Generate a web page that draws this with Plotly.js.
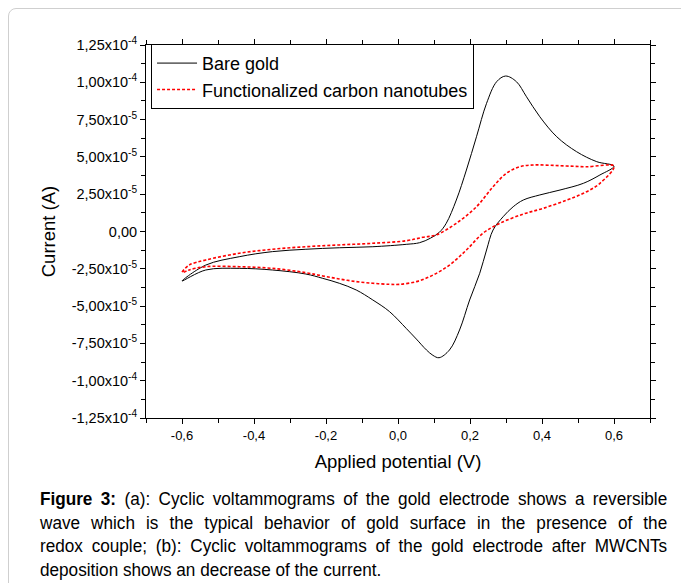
<!DOCTYPE html>
<html>
<head>
<meta charset="utf-8">
<script src="https://cdn.plot.ly/plotly-3.0.1.min.js"></script>
<style>
  html, body { margin: 0; padding: 0; background: #fff; }
  body { width: 681px; height: 583px; position: relative; overflow: hidden; font-family: "Liberation Sans", Arial, sans-serif; }
  #frame { position: absolute; left: 8px; top: 8px; width: 720px; height: 620px; border: 1px solid #cfcfcf; border-radius: 8px; box-sizing: border-box; }
  #chart { position: absolute; left: 0; top: 0; width: 681px; height: 583px; }
  #caption { position: absolute; left: 40px; top: 488px; width: 640px; transform: scaleX(0.98); transform-origin: 0 0; font-size: 17.5px; line-height: 23.7px; color: #000; }
  #caption .ln { text-align: justify; text-align-last: justify; white-space: normal; }
  #caption .ln.last { text-align-last: left; }
</style>
</head>
<body>
<div id="frame"></div>
<div id="chart"></div>
<div id="caption">
  <div class="ln"><b>Figure 3:</b> (a): Cyclic voltammograms of the gold electrode shows a reversible</div>
  <div class="ln">wave which is the typical behavior of gold surface in the presence of the</div>
  <div class="ln">redox couple; (b): Cyclic voltammograms of the gold electrode after MWCNTs</div>
  <div class="ln last">deposition shows an decrease of the current.</div>
</div>
<script>
// Bare gold: forward (anodic) scan then reverse (cathodic) scan; potential in V, current in units of 1e-5 A
const bareV = [-0.6, -0.534, -0.441, -0.349, -0.256, -0.163, -0.070, 0.023, 0.060, 0.090, 0.115, 0.134, 0.162, 0.190, 0.218, 0.246, 0.274, 0.299, 0.329, 0.357, 0.394, 0.441, 0.496, 0.552, 0.6,
               0.561, 0.515, 0.450, 0.394, 0.348, 0.320, 0.292, 0.264, 0.246, 0.227, 0.199, 0.171, 0.143, 0.114, 0.097, 0.079, 0.051, 0.023, -0.024, -0.070, -0.116, -0.163, -0.209, -0.256, -0.349, -0.441, -0.534, -0.6];
const bareI = [-3.32, -2.25, -1.69, -1.35, -1.19, -1.09, -1.02, -0.86, -0.75, -0.45, -0.05, 0.55, 2.11, 4.12, 6.35, 8.59, 10.04, 10.42, 10.04, 9.03, 7.69, 6.35, 5.35, 4.68, 4.38,
               3.79, 3.23, 2.78, 2.45, 2.11, 1.66, 0.99, 0.10, -1.24, -2.80, -4.59, -6.60, -7.94, -8.46, -8.30, -7.94, -7.21, -6.50, -5.36, -4.59, -3.92, -3.47, -3.14, -2.85, -2.58, -2.47, -2.58, -3.32];
// Functionalized carbon nanotubes
const cntV = [-0.6, -0.580, -0.534, -0.441, -0.349, -0.256, -0.163, -0.070, 0.023, 0.069, 0.106, 0.162, 0.218, 0.264, 0.301, 0.338, 0.375, 0.422, 0.469, 0.524, 0.6,
              0.561, 0.515, 0.469, 0.403, 0.348, 0.283, 0.236, 0.190, 0.143, 0.097, 0.051, 0.004, -0.024, -0.070, -0.116, -0.163, -0.209, -0.256, -0.349, -0.441, -0.534, -0.580, -0.6];
const cntI = [-2.72, -2.25, -1.91, -1.46, -1.19, -1.02, -0.90, -0.79, -0.62, -0.39, -0.23, 0.55, 1.66, 3.00, 3.90, 4.34, 4.46, 4.44, 4.39, 4.34, 4.38,
              3.23, 2.56, 2.11, 1.55, 1.17, 0.55, -0.12, -1.24, -2.25, -2.92, -3.36, -3.54, -3.54, -3.47, -3.36, -3.18, -2.98, -2.76, -2.47, -2.36, -2.36, -2.58, -2.80];
const seriesNames = ["Bare gold", "Functionalized carbon nanotubes"];
const yTickVals = [1.25e-4, 1.0e-4, 7.5e-5, 5.0e-5, 2.5e-5, 0, -2.5e-5, -5.0e-5, -7.5e-5, -1.0e-4, -1.25e-4];
const yTickText = ["1,25x10<sup>-4</sup>", "1,00x10<sup>-4</sup>", "7,50x10<sup>-5</sup>", "5,00x10<sup>-5</sup>", "2,50x10<sup>-5</sup>", "0,00",
                   "-2,50x10<sup>-5</sup>", "-5,00x10<sup>-5</sup>", "-7,50x10<sup>-5</sup>", "-1,00x10<sup>-4</sup>", "-1,25x10<sup>-4</sup>"];
const xTickVals = [-0.6, -0.4, -0.2, 0.0, 0.2, 0.4, 0.6];
const xTickText = ["-0,6", "-0,4", "-0,2", "0,0", "0,2", "0,4", "0,6"];

const scale = 1e-5;
const traces = [
  { x: bareV, y: bareI.map(v => v * scale), name: seriesNames[0], mode: "lines",
    line: { color: "#000", width: 1, shape: "spline", smoothing: 1 } },
  { x: cntV, y: cntI.map(v => v * scale), name: seriesNames[1], mode: "lines",
    line: { color: "#ff0000", width: 1.6, dash: "3px,2px", shape: "spline", smoothing: 1 } }
];
const fontFam = "Liberation Sans, Arial, sans-serif";
const layout = {
  width: 681, height: 583,
  margin: { l: 146, r: 31, t: 45, b: 165 },
  paper_bgcolor: "rgba(0,0,0,0)", plot_bgcolor: "rgba(0,0,0,0)",
  font: { family: fontFam, color: "#000", size: 13 },
  showlegend: true,
  legend: { x: 0.01, y: 1.003, xanchor: "left", yanchor: "top", bgcolor: "#fff", bordercolor: "#000", borderwidth: 1,
            font: { size: 18, family: fontFam }, itemwidth: 40, tracegroupgap: 0 },
  xaxis: { range: [-0.7, 0.7], tickvals: xTickVals, ticktext: xTickText, ticks: "outside", ticklen: 5, tickwidth: 1, tickcolor: "#000",
           showline: true, linecolor: "#000", linewidth: 1, mirror: "allticks", showgrid: false, zeroline: false,
           minor: { dtick: 0.1, tick0: -0.7, ticks: "outside", ticklen: 4, tickcolor: "#000" },
           tickfont: { size: 13 },
           title: { text: "Applied potential (V)", font: { size: 18.5 }, standoff: 13 } },
  yaxis: { range: [-1.25e-4, 1.25e-4], tickvals: yTickVals, ticktext: yTickText, ticks: "outside", ticklen: 5, tickwidth: 1, tickcolor: "#000",
           showline: true, linecolor: "#000", linewidth: 1, mirror: "allticks", showgrid: false, zeroline: false,
           minor: { dtick: 1.25e-5, tick0: -1.25e-4, ticks: "outside", ticklen: 4, tickcolor: "#000" },
           tickfont: { size: 14.5 },
           title: { text: "Current (A)", font: { size: 18.5 }, standoff: 11 } }
};
Plotly.newPlot("chart", traces, layout, { displayModeBar: false, staticPlot: true });
</script>
</body>
</html>
